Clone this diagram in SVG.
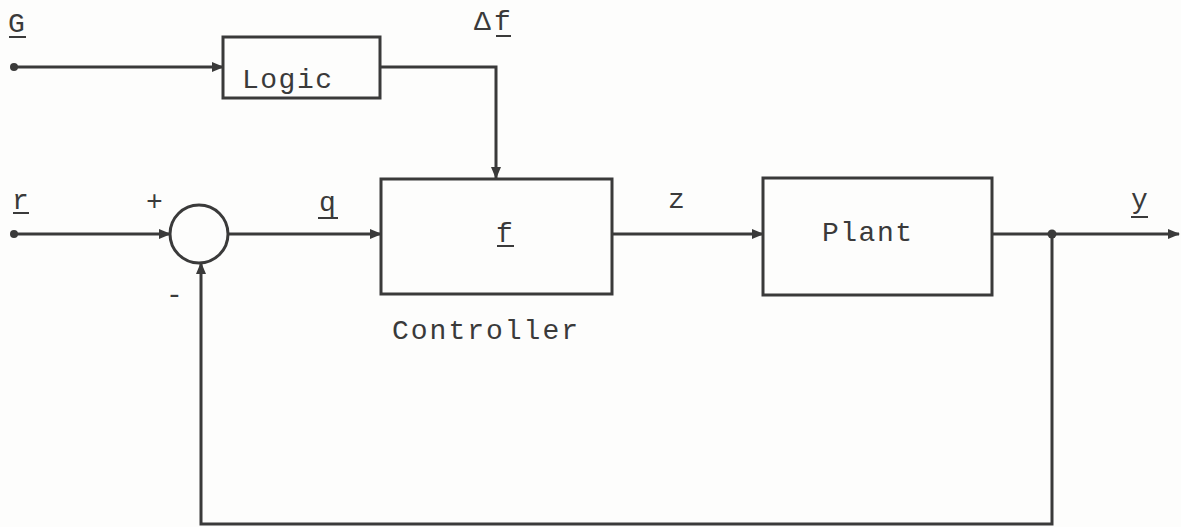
<svg xmlns="http://www.w3.org/2000/svg" width="1181" height="527" viewBox="0 0 1181 527">
<style>
.box{fill:none;stroke:#3a3a3a;stroke-width:3}
.wire{fill:none;stroke:#3a3a3a;stroke-width:3}
.dot{fill:#3a3a3a}
.t{font-family:"Liberation Mono",monospace;font-size:28px;fill:#3a3a3a;letter-spacing:1.5px}
.l{font-family:"Liberation Mono",monospace;font-size:28px;fill:#3a3a3a}
.u{stroke:#3a3a3a;stroke-width:2}
</style>
<defs>
<marker id="arr" markerWidth="12" markerHeight="12" refX="11" refY="6" orient="auto" markerUnits="userSpaceOnUse">
<path d="M0,1 L12,6 L0,11 Z" fill="#3a3a3a"/>
</marker>
</defs>
<rect width="1181" height="527" fill="#fdfdfc"/>
<g id="connectors">
<line class="wire" x1="14" y1="67" x2="223" y2="67" marker-end="url(#arr)"/>
<path class="wire" d="M380,67 H496 V178" marker-end="url(#arr)"/>
<line class="wire" x1="14" y1="234" x2="170" y2="234" marker-end="url(#arr)"/>
<line class="wire" x1="228" y1="234" x2="381" y2="234" marker-end="url(#arr)"/>
<line class="wire" x1="612" y1="234" x2="763" y2="234" marker-end="url(#arr)"/>
<line class="wire" x1="992" y1="234" x2="1179" y2="234" marker-end="url(#arr)"/>
<path class="wire" d="M1052,234 V524 H201 V263" marker-end="url(#arr)"/>
<circle class="dot" cx="14" cy="67" r="4"/>
<circle class="dot" cx="14" cy="234" r="4"/>
<circle class="dot" cx="1052" cy="234" r="4.5"/>
</g>
<g id="labels">
<text class="l" x="8" y="32">G</text><line class="u" x1="9" y1="37" x2="26" y2="37"/>
<text class="l" x="474" y="30">Δ</text>
<text class="l" x="494" y="30">f</text><line class="u" x1="496" y1="36" x2="511" y2="36"/>
<text class="l" x="12" y="209">r</text><line class="u" x1="13" y1="213" x2="29" y2="213"/>
<text class="l" x="146" y="210">+</text>
<text class="l" x="319" y="211">q</text><line class="u" x1="318" y1="218" x2="338" y2="218"/>
<text class="l" x="166" y="303">-</text>
<text class="l" x="668" y="208">z</text>
<text class="l" x="1131" y="208">y</text><line class="u" x1="1131" y1="217" x2="1148" y2="217"/>
</g>
<g id="logic">
<rect class="box" x="223" y="37" width="157" height="61"/>
<text class="t" x="242" y="88">Logic</text>
</g>
<g id="controller">
<rect class="box" x="381" y="179" width="231" height="115"/>
<text class="t" x="496" y="242">f</text><line class="u" x1="497" y1="246" x2="514" y2="246"/>
<text class="t" x="392" y="339" style="letter-spacing:2px">Controller</text>
</g>
<g id="plant">
<rect class="box" x="763" y="178" width="229" height="117"/>
<text class="t" x="822" y="241">Plant</text>
</g>
<g id="sum">
<circle class="box" cx="199" cy="234" r="29"/>
</g>
</svg>
